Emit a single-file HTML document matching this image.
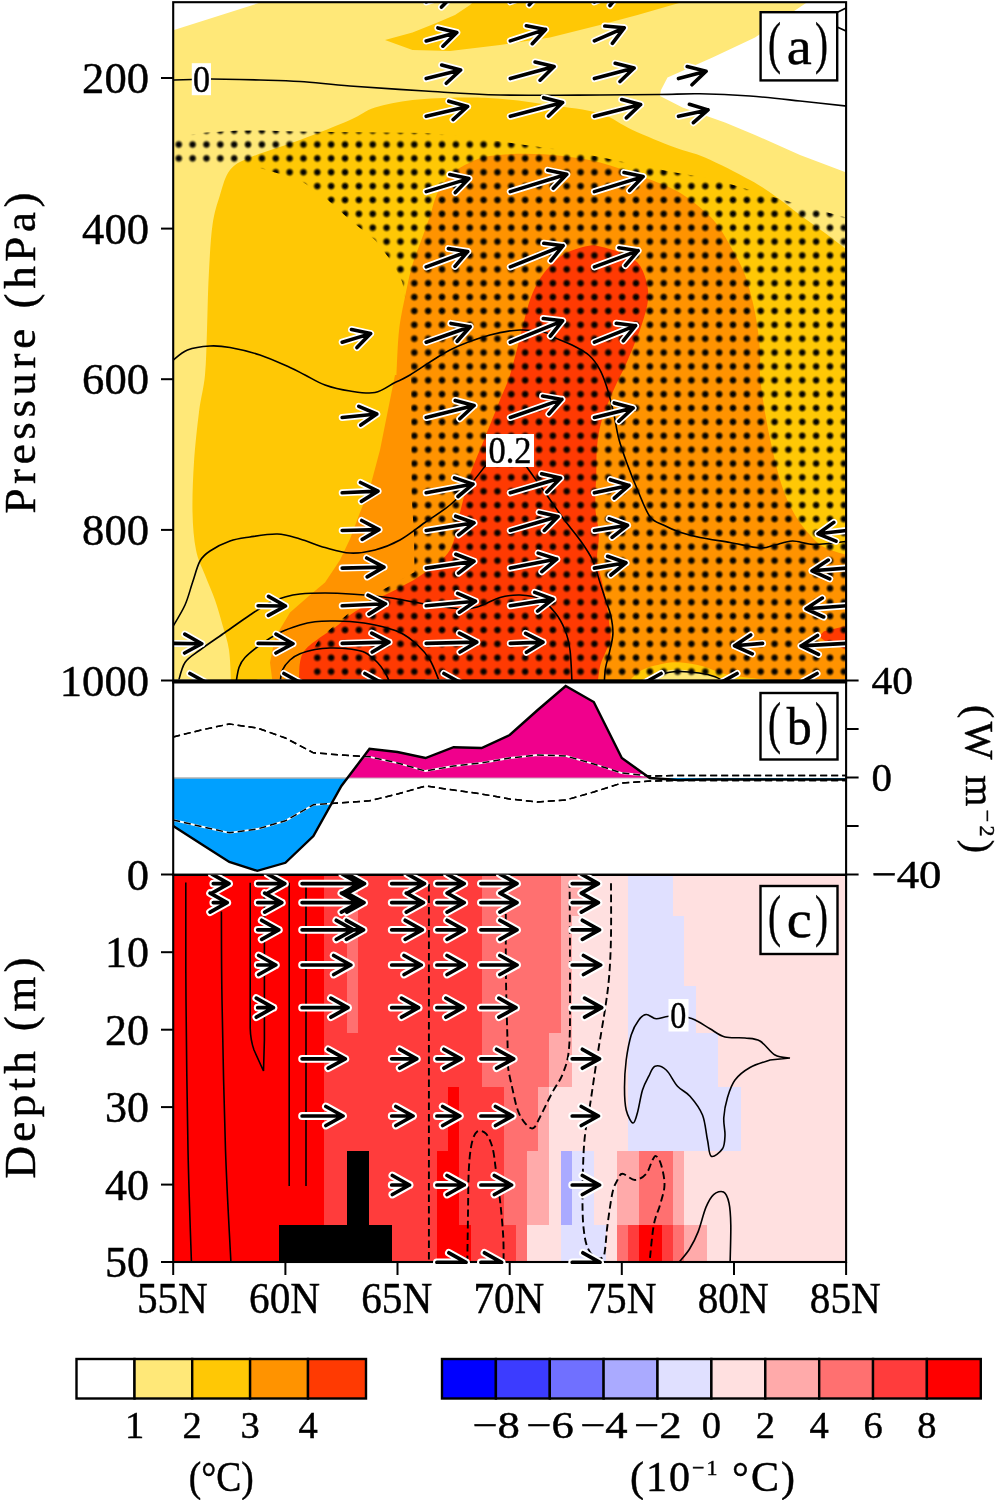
<!DOCTYPE html>
<html><head><meta charset="utf-8"><title>figure</title>
<style>
html,body{margin:0;padding:0;background:#fff;}
body{width:1000px;height:1500px;overflow:hidden;font-family:"Liberation Serif",serif;}
svg{display:block;will-change:transform;}
text{font-family:"Liberation Serif",serif;fill:#000;stroke:#000;stroke-width:0.45px;}
</style></head><body>
<svg width="1000" height="1500" viewBox="0 0 1000 1500">
<rect x="0" y="0" width="1000" height="1500" fill="#ffffff"/>
<defs>
<clipPath id="clipA"><rect x="173.2" y="2.2" width="672.9000000000001" height="678.3"/></clipPath>
<radialGradient id="dotg"><stop offset="0" stop-color="#000" stop-opacity="1"/><stop offset="0.34" stop-color="#000" stop-opacity="0.96"/><stop offset="0.6" stop-color="#000" stop-opacity="0.58"/><stop offset="0.82" stop-color="#000" stop-opacity="0.15"/><stop offset="1" stop-color="#000" stop-opacity="0"/></radialGradient>
<pattern id="dots" patternUnits="userSpaceOnUse" x="171.822" y="137.565" width="13.856" height="13.871"><circle cx="6.928" cy="6.936" r="4.9" fill="url(#dotg)"/></pattern>
</defs>
<g clip-path="url(#clipA)">
<rect x="173.2" y="2.2" width="672.9000000000001" height="678.3" fill="#ffe878"/>
<polygon points="174.0,2.0 262.0,2.0 174.0,30.0" fill="#ffffff"/>
<polygon points="807.5,2.0 850.0,2.0 850.0,174.0 800.0,155.0 755.0,135.0 725.0,122.5 682.5,107.5 660.0,96.0 661.0,90.0 667.5,77.5 712.5,57.5 755.0,37.5" fill="#ffffff"/>
<path d="M850.0 252.0 C845.8 248.8 833.3 239.2 825.0 233.0 C816.7 226.8 808.3 221.2 800.0 215.0 C791.7 208.8 783.3 201.8 775.0 196.0 C766.7 190.2 761.7 186.4 750.0 180.0 C738.3 173.6 717.5 162.9 705.0 157.5 C692.5 152.1 687.1 152.1 675.0 147.5 C662.9 142.9 645.0 135.7 632.5 130.0 C620.0 124.3 613.8 117.7 600.0 113.5 C586.2 109.3 566.7 107.5 550.0 105.0 C533.3 102.5 514.6 100.0 500.0 98.8 C485.4 97.5 477.1 97.3 462.5 97.5 C447.9 97.7 427.1 98.3 412.5 100.0 C397.9 101.7 385.4 104.2 375.0 107.5 C364.6 110.8 362.5 114.6 350.0 120.0 C337.5 125.4 316.7 133.8 300.0 140.0 C283.3 146.2 261.7 152.5 250.0 157.5 C238.3 162.5 235.0 163.8 230.0 170.0 C225.0 176.2 222.9 185.8 220.0 195.0 C217.1 204.2 214.4 211.7 212.5 225.0 C210.6 238.3 209.7 257.5 208.8 275.0 C207.8 292.5 207.6 313.3 207.0 330.0 C206.4 346.7 206.3 361.3 205.0 375.0 C203.7 388.7 200.8 397.5 199.0 412.0 C197.2 426.5 195.1 445.3 194.0 462.0 C192.9 478.7 192.2 497.3 192.5 512.0 C192.8 526.7 193.9 539.5 196.0 550.0 C198.1 560.5 201.8 566.7 205.0 575.0 C208.2 583.3 212.1 591.7 215.0 600.0 C217.9 608.3 220.2 616.7 222.5 625.0 C224.8 633.3 227.6 640.5 229.0 650.0 C230.4 659.5 230.7 676.7 231.0 682.0 L850 682 Z" fill="#ffc805"/>
<polygon points="385.0,40.0 412.5,32.5 437.5,22.5 455.0,15.0 470.0,5.0 475.0,0.0 690.0,0.0 682.5,2.0 637.5,15.0 600.0,25.0 550.0,37.5 500.0,45.0 450.0,51.0 412.5,50.0" fill="#ffc805"/>
<path d="M396.5 375.0 C396.9 367.7 397.6 344.0 399.0 331.0 C400.4 318.0 402.8 307.8 405.0 297.0 C407.2 286.2 409.3 275.3 412.0 266.0 C414.7 256.7 418.0 249.3 421.0 241.0 C424.0 232.7 427.3 223.8 430.0 216.0 C432.7 208.2 433.7 200.8 437.0 194.0 C440.3 187.2 444.5 180.2 450.0 175.0 C455.5 169.8 463.3 165.7 470.0 162.5 C476.7 159.3 480.8 157.5 490.0 156.0 C499.2 154.5 512.9 153.8 525.0 153.8 C537.1 153.8 550.0 154.5 562.5 156.0 C575.0 157.5 587.5 159.3 600.0 162.5 C612.5 165.7 625.0 170.4 637.5 175.0 C650.0 179.6 664.6 184.6 675.0 190.0 C685.4 195.4 692.9 201.7 700.0 207.5 C707.1 213.3 712.1 217.9 717.5 225.0 C722.9 232.1 727.9 241.7 732.5 250.0 C737.1 258.3 741.2 264.6 745.0 275.0 C748.8 285.4 752.5 300.0 755.0 312.5 C757.5 325.0 759.2 339.6 760.0 350.0 C760.8 360.4 759.2 364.6 760.0 375.0 C760.8 385.4 762.9 400.0 765.0 412.5 C767.1 425.0 769.6 437.5 772.5 450.0 C775.4 462.5 778.8 476.7 782.5 487.5 C786.2 498.3 790.4 507.1 795.0 515.0 C799.6 522.9 805.0 529.6 810.0 535.0 C815.0 540.4 818.3 544.0 825.0 547.5 C831.7 551.0 845.8 554.6 850.0 556.0 L850 682 L272.5 682  L272.5 682.0 L270.0 662.5 L275.0 637.5 L290.0 612.5 L310.0 595.0 L325.0 582.5 L340.0 560.0 L350.0 539.0 L360.0 512.5 L370.0 487.5 L380.0 450.0 L387.5 412.5 L395.0 375.0 Z" fill="#ff9300"/>
<path d="M299.0 682.0 C299.2 678.8 299.0 667.8 300.0 662.5 C301.0 657.2 301.7 654.2 305.0 650.0 C308.3 645.8 315.0 641.2 320.0 637.5 C325.0 633.8 330.0 631.2 335.0 627.5 C340.0 623.8 343.3 619.6 350.0 615.0 C356.7 610.4 366.7 604.6 375.0 600.0 C383.3 595.4 391.7 592.1 400.0 587.5 C408.3 582.9 416.7 578.8 425.0 572.5 C433.3 566.2 444.2 560.0 450.0 550.0 C455.8 540.0 456.7 525.0 460.0 512.5 C463.3 500.0 465.8 487.5 470.0 475.0 C474.2 462.5 480.0 450.0 485.0 437.5 C490.0 425.0 495.8 410.4 500.0 400.0 C504.2 389.6 506.7 385.4 510.0 375.0 C513.3 364.6 516.7 350.0 520.0 337.5 C523.3 325.0 526.2 310.4 530.0 300.0 C533.8 289.6 537.1 282.5 542.5 275.0 C547.9 267.5 555.0 259.8 562.5 255.0 C570.0 250.2 581.2 247.4 587.5 246.0 C593.8 244.6 594.6 245.4 600.0 246.5 C605.4 247.6 613.8 249.8 620.0 252.5 C626.2 255.2 633.2 257.9 637.5 262.5 C641.8 267.1 644.2 273.8 646.0 280.0 C647.8 286.2 648.8 292.3 648.0 300.0 C647.2 307.7 644.7 315.9 641.3 326.0 C637.9 336.1 632.1 350.0 627.5 360.7 C622.9 371.4 617.9 379.9 613.6 390.0 C609.3 400.1 604.3 411.8 601.5 421.3 C598.7 430.9 597.9 438.6 597.0 447.3 C596.1 456.0 596.6 463.2 596.3 473.3 C596.0 483.4 595.0 497.9 595.4 508.0 C595.8 518.1 598.6 525.3 598.9 534.0 C599.2 542.7 596.6 552.7 597.0 560.0 C597.4 567.3 599.5 571.3 601.0 578.0 C602.5 584.7 604.6 592.0 606.0 600.0 C607.4 608.0 608.8 619.5 609.5 626.0 C610.2 632.5 611.1 634.7 610.5 639.0 C609.9 643.3 607.3 647.7 605.6 652.0 C603.9 656.3 601.7 660.0 600.4 665.0 C599.1 670.0 598.2 679.2 597.8 682.0 Z" fill="#ff3a02"/>
<polygon points="850.0,625.0 824.0,631.2 818.8,636.4 824.0,640.3 850.0,651.5" fill="#ff3a02"/>
<path d="M629.0 681.0 C631.2 679.2 636.3 672.9 642.0 670.0 C647.7 667.1 656.5 665.0 663.0 663.7 C669.5 662.4 674.5 662.0 681.0 662.4 C687.5 662.8 694.7 664.1 702.0 666.0 C709.3 667.9 716.8 672.0 725.0 674.0 C733.2 676.0 741.0 676.8 751.0 678.0 C761.0 679.2 779.3 680.5 785.0 681.0 Z" fill="#ffc805"/>
<path d="M642.0 681.0 C644.2 679.8 649.8 675.9 655.0 674.0 C660.2 672.1 666.5 670.1 673.0 669.7 C679.5 669.3 687.0 670.3 694.0 671.5 C701.0 672.7 709.0 675.1 715.0 676.7 C721.0 678.3 727.5 680.3 730.0 681.0 Z" fill="#ffe878"/>
<polygon points="174.0,139.0 190.0,135.0 204.0,132.7 235.0,130.7 262.0,130.5 295.0,131.6 350.0,132.3 425.0,133.0 475.0,137.5 525.0,145.0 562.5,150.0 600.0,157.0 637.5,165.0 675.0,172.5 712.5,178.8 750.0,190.0 800.0,205.0 850.0,218.5 850.0,690.0 311.0,690.0 311.0,665.0 312.0,651.0 320.0,638.0 335.0,625.0 350.0,612.0 382.5,590.0 414.5,572.0 414.0,535.0 411.5,495.0 411.0,375.0 410.0,350.0 407.5,312.5 402.5,282.5 392.5,262.5 375.0,240.0 350.0,220.0 325.0,197.5 300.0,180.0 275.0,172.5 250.0,165.0 174.0,165.0" fill="url(#dots)"/>
<path d="M174.0 80.0 L192.0 79.5" fill="none" stroke="#000" stroke-width="1.6"/>
<path d="M211.0 79.0 C219.2 79.2 245.2 79.6 260.0 80.0 C274.8 80.4 285.0 80.5 300.0 81.5 C315.0 82.5 329.2 84.4 350.0 86.0 C370.8 87.6 400.0 89.5 425.0 91.0 C450.0 92.5 470.8 94.3 500.0 95.0 C529.2 95.7 573.3 95.1 600.0 95.0 C626.7 94.9 643.3 94.7 660.0 94.5 C676.7 94.3 685.0 93.5 700.0 93.8 C715.0 94.0 733.3 94.8 750.0 96.0 C766.7 97.2 783.3 99.2 800.0 101.0 C816.7 102.8 841.7 105.6 850.0 106.5" fill="none" stroke="#000" stroke-width="1.6"/>
<path d="M836.0 13.0 L847.0 7.5" fill="none" stroke="#000" stroke-width="1.6"/>
<path d="M836.0 26.5 L847.0 31.5" fill="none" stroke="#000" stroke-width="1.6"/>
<path d="M172.0 361.0 C174.6 359.2 181.2 352.5 187.5 350.0 C193.8 347.5 202.9 346.4 210.0 346.0 C217.1 345.6 221.7 346.0 230.0 347.5 C238.3 349.0 250.0 351.7 260.0 355.0 C270.0 358.3 282.5 364.2 290.0 367.5 C297.5 370.8 299.2 372.1 305.0 375.0 C310.8 377.9 317.5 382.3 325.0 385.0 C332.5 387.7 341.7 389.8 350.0 391.0 C358.3 392.2 367.5 393.9 375.0 392.5 C382.5 391.1 389.2 385.4 395.0 382.5 C400.8 379.6 400.8 380.4 410.0 375.0 C419.2 369.6 436.7 356.7 450.0 350.0 C463.3 343.3 478.3 338.3 490.0 335.0 C501.7 331.7 510.8 330.4 520.0 330.0 C529.2 329.6 539.8 331.4 545.0 332.5 C550.2 333.6 546.7 334.3 551.2 336.4 C555.7 338.5 565.6 341.8 572.0 345.0 C578.4 348.2 584.7 351.4 589.3 355.5 C593.9 359.6 596.8 364.1 599.7 369.3 C602.6 374.5 604.4 379.5 606.7 386.7 C609.0 393.9 611.6 404.0 613.6 412.7 C615.6 421.4 616.5 430.0 618.8 438.7 C621.1 447.4 624.3 456.0 627.5 464.7 C630.7 473.4 634.1 482.0 637.9 490.7 C641.6 499.4 645.7 510.9 650.0 516.7 C654.3 522.5 658.9 522.7 663.9 525.3 C668.9 527.9 674.0 530.3 680.0 532.3 C686.0 534.3 691.7 535.8 700.0 537.5 C708.3 539.2 720.0 540.8 730.0 542.5 C740.0 544.2 752.5 547.6 760.0 548.0 C767.5 548.4 769.6 546.2 775.0 545.0 C780.4 543.8 785.8 541.1 792.5 541.0 C799.2 540.9 805.4 544.5 815.0 544.5 C824.6 544.5 844.2 541.6 850.0 541.0" fill="none" stroke="#000" stroke-width="1.6"/>
<path d="M172.0 628.0 C174.2 624.2 181.6 612.6 185.0 605.0 C188.4 597.4 190.0 589.8 192.5 582.5 C195.0 575.2 197.1 566.2 200.0 561.0 C202.9 555.8 205.0 554.3 210.0 551.0 C215.0 547.7 223.3 543.3 230.0 541.0 C236.7 538.7 242.1 538.2 250.0 537.0 C257.9 535.8 269.2 533.7 277.5 534.0 C285.8 534.3 292.1 536.8 300.0 539.0 C307.9 541.2 316.7 545.2 325.0 547.5 C333.3 549.8 341.7 552.6 350.0 553.0 C358.3 553.4 366.7 552.2 375.0 550.0 C383.3 547.8 391.7 544.6 400.0 540.0 C408.3 535.4 416.7 528.3 425.0 522.5 C433.3 516.7 442.5 511.2 450.0 505.0 C457.5 498.8 464.0 491.7 470.0 485.0 C476.0 478.3 483.3 468.3 486.0 465.0" fill="none" stroke="#000" stroke-width="1.6"/>
<path d="M526.0 466.0 C529.2 470.4 538.9 483.9 545.0 492.5 C551.1 501.1 556.7 509.6 562.5 517.5 C568.3 525.4 575.0 532.9 580.0 540.0 C585.0 547.1 589.2 552.9 592.5 560.0 C595.8 567.1 597.8 575.8 600.0 582.5 C602.2 589.2 603.8 594.5 605.6 600.0 C607.4 605.5 609.6 610.0 610.8 615.6 C612.0 621.2 613.1 627.7 612.9 633.8 C612.7 639.9 610.7 646.4 609.5 652.0 C608.3 657.6 606.5 662.6 605.6 667.6 C604.7 672.6 604.5 679.6 604.3 682.0" fill="none" stroke="#000" stroke-width="1.6"/>
<path d="M178.0 683.0 C179.2 679.6 181.3 668.0 185.0 662.5 C188.7 657.0 193.3 655.0 200.0 650.0 C206.7 645.0 216.7 638.3 225.0 632.5 C233.3 626.7 242.5 620.0 250.0 615.0 C257.5 610.0 264.2 605.5 270.0 602.5 C275.8 599.5 280.0 598.4 285.0 597.0 C290.0 595.6 293.3 594.7 300.0 594.0 C306.7 593.3 316.7 593.0 325.0 593.0 C333.3 593.0 339.6 593.2 350.0 594.0 C360.4 594.8 375.0 595.8 387.5 597.5 C400.0 599.2 412.5 602.1 425.0 604.0 C437.5 605.9 453.3 608.7 462.5 609.0 C471.7 609.3 473.8 607.9 480.0 606.0 C486.2 604.1 493.3 599.3 500.0 597.5 C506.7 595.7 513.3 594.8 520.0 595.0 C526.7 595.2 534.2 596.1 540.0 599.0 C545.8 601.9 550.8 607.3 555.0 612.5 C559.2 617.7 562.5 623.8 565.0 630.0 C567.5 636.2 568.8 641.2 570.0 650.0 C571.2 658.8 571.7 677.5 572.0 683.0" fill="none" stroke="#000" stroke-width="1.6"/>
<path d="M236.0 683.0 C236.5 680.4 237.5 671.8 239.0 667.5 C240.5 663.2 241.5 661.2 245.0 657.5 C248.5 653.8 254.2 649.2 260.0 645.0 C265.8 640.8 273.3 635.8 280.0 632.5 C286.7 629.2 294.2 626.8 300.0 625.0 C305.8 623.2 310.0 622.4 315.0 621.8 C320.0 621.1 324.2 621.0 330.0 621.0 C335.8 621.0 342.5 620.8 350.0 621.5 C357.5 622.2 366.7 623.2 375.0 625.0 C383.3 626.8 392.9 629.2 400.0 632.5 C407.1 635.8 412.5 640.4 417.5 645.0 C422.5 649.6 426.2 653.7 430.0 660.0 C433.8 666.3 438.3 679.2 440.0 683.0" fill="none" stroke="#000" stroke-width="1.6"/>
<path d="M280.0 683.0 C280.4 680.8 280.8 673.8 282.5 670.0 C284.2 666.2 287.1 662.7 290.0 660.0 C292.9 657.3 295.8 655.5 300.0 653.8 C304.2 652.0 310.0 650.5 315.0 649.5 C320.0 648.5 324.2 648.1 330.0 648.0 C335.8 647.9 344.2 648.2 350.0 649.0 C355.8 649.8 360.4 650.2 365.0 652.5 C369.6 654.8 374.2 659.2 377.5 662.5 C380.8 665.8 382.9 669.1 385.0 672.5 C387.1 675.9 389.2 681.2 390.0 683.0" fill="none" stroke="#000" stroke-width="1.6"/>
<path d="M648.5 682.0 C650.9 680.7 658.1 675.8 663.0 674.0 C667.9 672.2 672.0 671.7 678.0 671.5 C684.0 671.3 692.8 672.1 699.0 673.0 C705.2 673.9 710.7 675.2 715.0 676.7 C719.3 678.2 723.3 681.1 725.0 682.0" fill="none" stroke="#000" stroke-width="1.6"/>
<path d="M174.0 643.4L201.8 643.7M184.6 653.0L201.8 643.7L184.8 634.1M174.0 683.0L207.0 683.0M189.9 692.5L207.0 683.0L189.9 673.5M258.1 605.8L285.5 606.0M268.4 615.3L285.5 606.0L268.5 596.4M258.1 643.4L293.0 643.7M275.9 653.0L293.0 643.7L276.0 634.1M258.1 683.0L301.0 683.0M283.9 692.5L301.0 683.0L283.9 673.5M342.2 342.2L370.6 333.6M357.0 347.6L370.6 333.6L351.5 329.5M342.2 417.5L376.8 414.0M360.8 425.1L376.8 414.0L358.8 406.3M342.2 492.8L378.0 491.1M361.4 501.4L378.0 491.1L360.5 482.5M342.2 530.5L379.0 529.6M362.2 539.4L379.0 529.6L361.7 520.5M342.2 568.1L384.0 567.1M367.2 576.9L384.0 567.1L366.7 558.0M342.2 605.8L385.5 603.8M368.9 614.1L385.5 603.8L368.0 595.2M342.2 643.4L389.0 642.1M372.2 652.0L389.0 642.1L371.7 633.1M342.2 683.0L382.0 683.0M364.9 692.5L382.0 683.0L364.9 673.5M426.2 1.8L455.1 -6.9M441.5 7.1L455.1 -6.9L436.0 -11.0M426.2 40.9L456.8 32.5M442.9 46.2L456.8 32.5L437.9 27.9M426.2 78.6L460.6 70.0M446.3 83.3L460.6 70.0L441.7 65.0M426.2 116.3L467.6 106.5M453.1 119.6L467.6 106.5L448.8 101.2M426.2 191.6L468.9 178.6M455.3 192.6L468.9 178.6L449.8 174.5M426.2 266.9L467.7 251.5M455.0 266.3L467.7 251.5L448.4 248.6M426.2 342.2L470.1 326.7M457.2 341.3L470.1 326.7L450.9 323.4M426.2 417.5L474.1 405.5M459.8 418.8L474.1 405.5L455.2 400.5M426.2 492.8L473.0 484.1M458.0 496.5L473.0 484.1L454.5 477.9M426.2 530.5L474.0 522.8M458.7 534.8L474.0 522.8L455.7 516.2M426.2 568.1L474.0 561.3M458.5 573.1L474.0 561.3L455.8 554.3M426.2 605.8L475.5 601.2M459.4 612.2L475.5 601.2L457.6 593.4M426.2 643.4L476.8 642.1M460.0 652.0L476.8 642.1L459.4 633.1M426.2 683.0L461.0 683.0M443.9 692.5L461.0 683.0L443.9 673.5M510.3 1.8L542.1 -9.8M529.3 4.9L542.1 -9.8L522.9 -12.8M510.3 40.9L545.6 29.4M532.3 43.7L545.6 29.4L526.4 25.7M510.3 78.6L554.1 66.5M540.1 80.2L554.1 66.5L535.1 62.0M510.3 116.3L562.6 102.5M548.5 116.0L562.6 102.5L543.7 97.7M510.3 191.6L566.8 174.3M553.3 188.3L566.8 174.3L547.8 170.3M510.3 266.9L563.1 245.7M550.8 260.9L563.1 245.7L543.8 243.3M510.3 342.2L562.6 320.8M550.4 336.0L562.6 320.8L543.3 318.5M510.3 417.5L561.9 399.4M548.9 414.0L561.9 399.4L542.6 396.1M510.3 492.8L560.6 478.1M546.9 491.9L560.6 478.1L541.6 473.8M510.3 530.5L558.1 516.6M544.3 530.4L558.1 516.6L539.1 512.3M510.3 568.1L556.8 559.1M541.8 571.7L556.8 559.1L538.2 553.1M510.3 605.8L553.0 599.1M537.6 611.1L553.0 599.1L534.7 592.4M510.3 643.4L543.0 642.1M526.4 652.2L543.0 642.1L525.6 633.3M594.4 1.8L622.2 -9.7M610.0 5.5L622.2 -9.7L602.8 -11.9M594.4 40.9L624.2 27.8M612.4 43.3L624.2 27.8L604.8 26.0M594.4 78.6L634.1 68.0M620.0 81.5L634.1 68.0L615.2 63.3M594.4 116.3L640.6 104.5M626.4 117.9L640.6 104.5L621.7 99.5M594.4 191.6L643.1 176.6M629.6 190.6L643.1 176.6L624.0 172.6M594.4 266.9L638.1 250.7M625.4 265.5L638.1 250.7L618.8 247.7M594.4 342.2L635.6 325.7M623.3 340.8L635.6 325.7L616.3 323.3M594.4 417.5L633.1 408.0M618.8 421.2L633.1 408.0L614.2 402.9M594.4 492.8L629.0 485.4M614.3 498.2L629.0 485.4L610.4 479.7M594.4 530.5L627.5 525.3M612.1 537.3L627.5 525.3L609.2 518.6M594.4 568.1L626.0 562.8M610.8 575.0L626.0 562.8L607.6 556.3M678.5 78.6L706.1 71.3M692.0 84.8L706.1 71.3L687.2 66.5M678.5 116.3L708.0 109.9M693.4 122.7L708.0 109.9L689.4 104.3M678.5 683.0L644.0 683.0M661.1 673.5L644.0 683.0L661.1 692.5M762.6 643.4L734.5 645.8M750.7 635.0L734.5 645.8L752.3 653.8M762.6 683.0L720.0 683.0M737.1 673.5L720.0 683.0L737.1 692.5M846.5 530.5L818.0 533.8M833.8 522.4L818.0 533.8L836.0 541.2M846.5 568.1L812.0 570.8M828.3 560.1L812.0 570.8L829.7 578.9M846.5 605.8L806.0 608.8M822.3 598.1L806.0 608.8L823.7 617.0M846.5 643.4L801.0 645.9M817.5 635.5L801.0 645.9L818.5 654.4M846.5 683.0L800.0 683.0M817.1 673.5L800.0 683.0L817.1 692.5" fill="none" stroke="#fff" stroke-width="7.0" stroke-linecap="round" stroke-linejoin="round"/>
<path d="M174.0 643.4L201.8 643.7M184.6 653.0L201.8 643.7L184.8 634.1M174.0 683.0L207.0 683.0M189.9 692.5L207.0 683.0L189.9 673.5M258.1 605.8L285.5 606.0M268.4 615.3L285.5 606.0L268.5 596.4M258.1 643.4L293.0 643.7M275.9 653.0L293.0 643.7L276.0 634.1M258.1 683.0L301.0 683.0M283.9 692.5L301.0 683.0L283.9 673.5M342.2 342.2L370.6 333.6M357.0 347.6L370.6 333.6L351.5 329.5M342.2 417.5L376.8 414.0M360.8 425.1L376.8 414.0L358.8 406.3M342.2 492.8L378.0 491.1M361.4 501.4L378.0 491.1L360.5 482.5M342.2 530.5L379.0 529.6M362.2 539.4L379.0 529.6L361.7 520.5M342.2 568.1L384.0 567.1M367.2 576.9L384.0 567.1L366.7 558.0M342.2 605.8L385.5 603.8M368.9 614.1L385.5 603.8L368.0 595.2M342.2 643.4L389.0 642.1M372.2 652.0L389.0 642.1L371.7 633.1M342.2 683.0L382.0 683.0M364.9 692.5L382.0 683.0L364.9 673.5M426.2 1.8L455.1 -6.9M441.5 7.1L455.1 -6.9L436.0 -11.0M426.2 40.9L456.8 32.5M442.9 46.2L456.8 32.5L437.9 27.9M426.2 78.6L460.6 70.0M446.3 83.3L460.6 70.0L441.7 65.0M426.2 116.3L467.6 106.5M453.1 119.6L467.6 106.5L448.8 101.2M426.2 191.6L468.9 178.6M455.3 192.6L468.9 178.6L449.8 174.5M426.2 266.9L467.7 251.5M455.0 266.3L467.7 251.5L448.4 248.6M426.2 342.2L470.1 326.7M457.2 341.3L470.1 326.7L450.9 323.4M426.2 417.5L474.1 405.5M459.8 418.8L474.1 405.5L455.2 400.5M426.2 492.8L473.0 484.1M458.0 496.5L473.0 484.1L454.5 477.9M426.2 530.5L474.0 522.8M458.7 534.8L474.0 522.8L455.7 516.2M426.2 568.1L474.0 561.3M458.5 573.1L474.0 561.3L455.8 554.3M426.2 605.8L475.5 601.2M459.4 612.2L475.5 601.2L457.6 593.4M426.2 643.4L476.8 642.1M460.0 652.0L476.8 642.1L459.4 633.1M426.2 683.0L461.0 683.0M443.9 692.5L461.0 683.0L443.9 673.5M510.3 1.8L542.1 -9.8M529.3 4.9L542.1 -9.8L522.9 -12.8M510.3 40.9L545.6 29.4M532.3 43.7L545.6 29.4L526.4 25.7M510.3 78.6L554.1 66.5M540.1 80.2L554.1 66.5L535.1 62.0M510.3 116.3L562.6 102.5M548.5 116.0L562.6 102.5L543.7 97.7M510.3 191.6L566.8 174.3M553.3 188.3L566.8 174.3L547.8 170.3M510.3 266.9L563.1 245.7M550.8 260.9L563.1 245.7L543.8 243.3M510.3 342.2L562.6 320.8M550.4 336.0L562.6 320.8L543.3 318.5M510.3 417.5L561.9 399.4M548.9 414.0L561.9 399.4L542.6 396.1M510.3 492.8L560.6 478.1M546.9 491.9L560.6 478.1L541.6 473.8M510.3 530.5L558.1 516.6M544.3 530.4L558.1 516.6L539.1 512.3M510.3 568.1L556.8 559.1M541.8 571.7L556.8 559.1L538.2 553.1M510.3 605.8L553.0 599.1M537.6 611.1L553.0 599.1L534.7 592.4M510.3 643.4L543.0 642.1M526.4 652.2L543.0 642.1L525.6 633.3M594.4 1.8L622.2 -9.7M610.0 5.5L622.2 -9.7L602.8 -11.9M594.4 40.9L624.2 27.8M612.4 43.3L624.2 27.8L604.8 26.0M594.4 78.6L634.1 68.0M620.0 81.5L634.1 68.0L615.2 63.3M594.4 116.3L640.6 104.5M626.4 117.9L640.6 104.5L621.7 99.5M594.4 191.6L643.1 176.6M629.6 190.6L643.1 176.6L624.0 172.6M594.4 266.9L638.1 250.7M625.4 265.5L638.1 250.7L618.8 247.7M594.4 342.2L635.6 325.7M623.3 340.8L635.6 325.7L616.3 323.3M594.4 417.5L633.1 408.0M618.8 421.2L633.1 408.0L614.2 402.9M594.4 492.8L629.0 485.4M614.3 498.2L629.0 485.4L610.4 479.7M594.4 530.5L627.5 525.3M612.1 537.3L627.5 525.3L609.2 518.6M594.4 568.1L626.0 562.8M610.8 575.0L626.0 562.8L607.6 556.3M678.5 78.6L706.1 71.3M692.0 84.8L706.1 71.3L687.2 66.5M678.5 116.3L708.0 109.9M693.4 122.7L708.0 109.9L689.4 104.3M678.5 683.0L644.0 683.0M661.1 673.5L644.0 683.0L661.1 692.5M762.6 643.4L734.5 645.8M750.7 635.0L734.5 645.8L752.3 653.8M762.6 683.0L720.0 683.0M737.1 673.5L720.0 683.0L737.1 692.5M846.5 530.5L818.0 533.8M833.8 522.4L818.0 533.8L836.0 541.2M846.5 568.1L812.0 570.8M828.3 560.1L812.0 570.8L829.7 578.9M846.5 605.8L806.0 608.8M822.3 598.1L806.0 608.8L823.7 617.0M846.5 643.4L801.0 645.9M817.5 635.5L801.0 645.9L818.5 654.4M846.5 683.0L800.0 683.0M817.1 673.5L800.0 683.0L817.1 692.5" fill="none" stroke="#000" stroke-width="3.6" stroke-linecap="round" stroke-linejoin="round"/>
</g>
<rect x="191.8" y="63.2" width="19.2" height="32" fill="#fff"/>
<text x="201.5" y="92" font-size="37" textLength="17" lengthAdjust="spacingAndGlyphs" text-anchor="middle" font-family="Liberation Serif, serif">0</text>
<rect x="486" y="434" width="48" height="33" fill="#fff"/>
<text x="510" y="463" font-size="37" text-anchor="middle" textLength="43" lengthAdjust="spacingAndGlyphs" font-family="Liberation Serif, serif">0.2</text>
<rect x="760.6" y="12.2" width="76.6" height="68.2" fill="#fff" stroke="#000" stroke-width="2.4"/>
<defs>
<clipPath id="clipBlo"><rect x="173.2" y="778.0" width="672.9000000000001" height="96.5"/></clipPath>
<clipPath id="clipBhi"><rect x="173.2" y="680.5" width="672.9000000000001" height="97.5"/></clipPath>
<clipPath id="clipBfill"><polygon points="173.2,826.0 201.2,844.0 229.3,862.0 257.3,870.8 285.4,862.8 313.4,836.0 341.4,786.0 369.5,748.8 397.5,752.0 425.5,758.0 453.6,747.2 481.6,748.0 509.7,735.0 537.7,710.0 565.7,686.0 593.8,702.0 621.8,758.0 649.8,778.0 677.9,780.0 705.9,779.5 734.0,779.5 762.0,779.5 790.0,779.5 818.1,779.5 846.1,779.5 846.1,778.0 173.2,778.0"/></clipPath>
</defs>
<rect x="173.2" y="680.5" width="672.9000000000001" height="194.0" fill="#fff"/>
<polyline points="173.2,737.0 201.2,730.0 229.3,724.0 257.3,728.0 285.4,738.0 313.4,752.8 341.4,755.0 369.5,756.8 397.5,763.0 425.5,771.0 453.6,766.0 481.6,763.0 509.7,758.0 537.7,755.0 565.7,756.0 593.8,764.0 621.8,773.0 649.8,776.0 677.9,775.5 705.9,775.5 734.0,775.5 762.0,775.5 790.0,775.5 818.1,775.5 846.1,775.5" fill="none" stroke="#000" stroke-width="1.5" stroke-dasharray="7 4"/>
<polyline points="173.2,820.0 201.2,826.5 229.3,832.8 257.3,829.0 285.4,820.8 313.4,804.8 341.4,802.8 369.5,800.8 397.5,794.0 425.5,786.0 453.6,790.0 481.6,794.0 509.7,799.0 537.7,802.0 565.7,800.0 593.8,792.0 621.8,783.0 649.8,781.0 677.9,780.5 705.9,780.5 734.0,780.5 762.0,780.5 790.0,780.5 818.1,780.5 846.1,780.5" fill="none" stroke="#000" stroke-width="1.5" stroke-dasharray="7 4"/>
<polygon points="173.2,826.0 201.2,844.0 229.3,862.0 257.3,870.8 285.4,862.8 313.4,836.0 341.4,786.0 369.5,748.8 397.5,752.0 425.5,758.0 453.6,747.2 481.6,748.0 509.7,735.0 537.7,710.0 565.7,686.0 593.8,702.0 621.8,758.0 649.8,778.0 677.9,780.0 705.9,779.5 734.0,779.5 762.0,779.5 790.0,779.5 818.1,779.5 846.1,779.5 846.1,778.0 173.2,778.0" fill="#00a0ff" clip-path="url(#clipBlo)"/>
<polygon points="173.2,826.0 201.2,844.0 229.3,862.0 257.3,870.8 285.4,862.8 313.4,836.0 341.4,786.0 369.5,748.8 397.5,752.0 425.5,758.0 453.6,747.2 481.6,748.0 509.7,735.0 537.7,710.0 565.7,686.0 593.8,702.0 621.8,758.0 649.8,778.0 677.9,780.0 705.9,779.5 734.0,779.5 762.0,779.5 790.0,779.5 818.1,779.5 846.1,779.5 846.1,778.0 173.2,778.0" fill="#f0008c" clip-path="url(#clipBhi)"/>
<line x1="173.2" y1="778.0" x2="346" y2="778.0" stroke="#b0b0b0" stroke-width="1.6"/>
<line x1="346" y1="778.0" x2="650" y2="778.0" stroke="#c8a0b8" stroke-width="1"/>
<g clip-path="url(#clipBfill)">
<polyline points="173.2,737.0 201.2,730.0 229.3,724.0 257.3,728.0 285.4,738.0 313.4,752.8 341.4,755.0 369.5,756.8 397.5,763.0 425.5,771.0 453.6,766.0 481.6,763.0 509.7,758.0 537.7,755.0 565.7,756.0 593.8,764.0 621.8,773.0 649.8,776.0 677.9,775.5 705.9,775.5 734.0,775.5 762.0,775.5 790.0,775.5 818.1,775.5 846.1,775.5" fill="none" stroke="#fff" stroke-width="1.8"/>
<polyline points="173.2,820.0 201.2,826.5 229.3,832.8 257.3,829.0 285.4,820.8 313.4,804.8 341.4,802.8 369.5,800.8 397.5,794.0 425.5,786.0 453.6,790.0 481.6,794.0 509.7,799.0 537.7,802.0 565.7,800.0 593.8,792.0 621.8,783.0 649.8,781.0 677.9,780.5 705.9,780.5 734.0,780.5 762.0,780.5 790.0,780.5 818.1,780.5 846.1,780.5" fill="none" stroke="#fff" stroke-width="1.8"/>
</g>
<polyline points="173.2,737.0 201.2,730.0 229.3,724.0 257.3,728.0 285.4,738.0 313.4,752.8 341.4,755.0 369.5,756.8 397.5,763.0 425.5,771.0 453.6,766.0 481.6,763.0 509.7,758.0 537.7,755.0 565.7,756.0 593.8,764.0 621.8,773.0 649.8,776.0 677.9,775.5 705.9,775.5 734.0,775.5 762.0,775.5 790.0,775.5 818.1,775.5 846.1,775.5" fill="none" stroke="#000" stroke-width="1.5" stroke-dasharray="7 4"/>
<polyline points="173.2,820.0 201.2,826.5 229.3,832.8 257.3,829.0 285.4,820.8 313.4,804.8 341.4,802.8 369.5,800.8 397.5,794.0 425.5,786.0 453.6,790.0 481.6,794.0 509.7,799.0 537.7,802.0 565.7,800.0 593.8,792.0 621.8,783.0 649.8,781.0 677.9,780.5 705.9,780.5 734.0,780.5 762.0,780.5 790.0,780.5 818.1,780.5 846.1,780.5" fill="none" stroke="#000" stroke-width="1.5" stroke-dasharray="7 4"/>
<polyline points="173.2,826.0 201.2,844.0 229.3,862.0 257.3,870.8 285.4,862.8 313.4,836.0 341.4,786.0 369.5,748.8 397.5,752.0 425.5,758.0 453.6,747.2 481.6,748.0 509.7,735.0 537.7,710.0 565.7,686.0 593.8,702.0 621.8,758.0 649.8,778.0 677.9,780.0 705.9,779.5 734.0,779.5 762.0,779.5 790.0,779.5 818.1,779.5 846.1,779.5" fill="none" stroke="#000" stroke-width="2.4" stroke-linejoin="miter"/>
<line x1="173.2" y1="680.5" x2="173.2" y2="874.5" stroke="#000" stroke-width="2.1"/>
<line x1="846.1" y1="680.5" x2="846.1" y2="874.5" stroke="#000" stroke-width="2.1"/>
<rect x="173.2" y="2.2" width="672.9000000000001" height="678.3" fill="none" stroke="#000" stroke-width="2.1"/>
<line x1="172.2" y1="681.6" x2="847.1" y2="681.6" stroke="#000" stroke-width="3.6"/>
<line x1="846.1" y1="680.5" x2="858.6" y2="680.5" stroke="#000" stroke-width="2"/>
<line x1="846.1" y1="729.0" x2="858.6" y2="729.0" stroke="#000" stroke-width="2"/>
<line x1="846.1" y1="777.5" x2="858.6" y2="777.5" stroke="#000" stroke-width="2"/>
<line x1="846.1" y1="826.0" x2="858.6" y2="826.0" stroke="#000" stroke-width="2"/>
<line x1="846.1" y1="874.5" x2="858.6" y2="874.5" stroke="#000" stroke-width="2"/>
<rect x="760.5" y="693" width="77" height="66.5" fill="#fff" stroke="#000" stroke-width="2.4"/>
<defs>
<clipPath id="clipC"><rect x="173.2" y="874.8" width="672.9000000000001" height="387.20000000000005"/></clipPath>
<clipPath id="clipC2"><rect x="173.2" y="874.8" width="672.9000000000001" height="389.20000000000005"/></clipPath>
</defs>
<g clip-path="url(#clipC)" shape-rendering="crispEdges">
<rect x="173.2" y="874.8" width="672.9000000000001" height="387.20000000000005" fill="#ffe0e0"/>
<rect x="172.20" y="874.7" width="152.35" height="18.6" fill="#ff0000"/>
<rect x="324.25" y="874.7" width="22.80" height="18.6" fill="#ff3c3c"/>
<rect x="346.75" y="874.7" width="11.55" height="18.6" fill="#ff7070"/>
<rect x="358.00" y="874.7" width="124.05" height="18.6" fill="#ff3c3c"/>
<rect x="481.75" y="874.7" width="79.05" height="18.6" fill="#ff7070"/>
<rect x="560.50" y="874.7" width="22.80" height="18.6" fill="#ffaaaa"/>
<rect x="583.00" y="874.7" width="45.30" height="18.6" fill="#ffe0e0"/>
<rect x="628.00" y="874.7" width="45.30" height="18.6" fill="#e0e0ff"/>
<rect x="673.00" y="874.7" width="180.30" height="18.6" fill="#ffe0e0"/>
<rect x="172.20" y="892.7" width="152.35" height="23.6" fill="#ff0000"/>
<rect x="324.25" y="892.7" width="22.80" height="23.6" fill="#ff3c3c"/>
<rect x="346.75" y="892.7" width="11.55" height="23.6" fill="#ff7070"/>
<rect x="358.00" y="892.7" width="124.05" height="23.6" fill="#ff3c3c"/>
<rect x="481.75" y="892.7" width="79.05" height="23.6" fill="#ff7070"/>
<rect x="560.50" y="892.7" width="22.80" height="23.6" fill="#ffaaaa"/>
<rect x="583.00" y="892.7" width="45.30" height="23.6" fill="#ffe0e0"/>
<rect x="628.00" y="892.7" width="45.30" height="23.6" fill="#e0e0ff"/>
<rect x="673.00" y="892.7" width="180.30" height="23.6" fill="#ffe0e0"/>
<rect x="172.20" y="915.7" width="152.35" height="32.1" fill="#ff0000"/>
<rect x="324.25" y="915.7" width="22.80" height="32.1" fill="#ff3c3c"/>
<rect x="346.75" y="915.7" width="11.55" height="32.1" fill="#ff7070"/>
<rect x="358.00" y="915.7" width="124.05" height="32.1" fill="#ff3c3c"/>
<rect x="481.75" y="915.7" width="79.05" height="32.1" fill="#ff7070"/>
<rect x="560.50" y="915.7" width="11.55" height="32.1" fill="#ffaaaa"/>
<rect x="571.75" y="915.7" width="56.55" height="32.1" fill="#ffe0e0"/>
<rect x="628.00" y="915.7" width="56.55" height="32.1" fill="#e0e0ff"/>
<rect x="684.25" y="915.7" width="169.05" height="32.1" fill="#ffe0e0"/>
<rect x="172.20" y="947.2" width="152.35" height="39.1" fill="#ff0000"/>
<rect x="324.25" y="947.2" width="22.80" height="39.1" fill="#ff3c3c"/>
<rect x="346.75" y="947.2" width="11.55" height="39.1" fill="#ff7070"/>
<rect x="358.00" y="947.2" width="124.05" height="39.1" fill="#ff3c3c"/>
<rect x="481.75" y="947.2" width="79.05" height="39.1" fill="#ff7070"/>
<rect x="560.50" y="947.2" width="11.55" height="39.1" fill="#ffaaaa"/>
<rect x="571.75" y="947.2" width="56.55" height="39.1" fill="#ffe0e0"/>
<rect x="628.00" y="947.2" width="56.55" height="39.1" fill="#e0e0ff"/>
<rect x="684.25" y="947.2" width="169.05" height="39.1" fill="#ffe0e0"/>
<rect x="172.20" y="985.7" width="152.35" height="47.6" fill="#ff0000"/>
<rect x="324.25" y="985.7" width="22.80" height="47.6" fill="#ff3c3c"/>
<rect x="346.75" y="985.7" width="11.55" height="47.6" fill="#ff7070"/>
<rect x="358.00" y="985.7" width="124.05" height="47.6" fill="#ff3c3c"/>
<rect x="481.75" y="985.7" width="79.05" height="47.6" fill="#ff7070"/>
<rect x="560.50" y="985.7" width="11.55" height="47.6" fill="#ffaaaa"/>
<rect x="571.75" y="985.7" width="56.55" height="47.6" fill="#ffe0e0"/>
<rect x="628.00" y="985.7" width="67.80" height="47.6" fill="#e0e0ff"/>
<rect x="695.50" y="985.7" width="157.80" height="47.6" fill="#ffe0e0"/>
<rect x="172.20" y="1032.7" width="152.35" height="54.6" fill="#ff0000"/>
<rect x="324.25" y="1032.7" width="157.80" height="54.6" fill="#ff3c3c"/>
<rect x="481.75" y="1032.7" width="67.80" height="54.6" fill="#ff7070"/>
<rect x="549.25" y="1032.7" width="22.80" height="54.6" fill="#ffaaaa"/>
<rect x="571.75" y="1032.7" width="56.55" height="54.6" fill="#ffe0e0"/>
<rect x="628.00" y="1032.7" width="90.30" height="54.6" fill="#e0e0ff"/>
<rect x="718.00" y="1032.7" width="135.30" height="54.6" fill="#ffe0e0"/>
<rect x="172.20" y="1086.7" width="152.35" height="64.6" fill="#ff0000"/>
<rect x="324.25" y="1086.7" width="124.05" height="64.6" fill="#ff3c3c"/>
<rect x="448.00" y="1086.7" width="11.55" height="64.6" fill="#ff0000"/>
<rect x="459.25" y="1086.7" width="45.30" height="64.6" fill="#ff3c3c"/>
<rect x="504.25" y="1086.7" width="34.05" height="64.6" fill="#ff7070"/>
<rect x="538.00" y="1086.7" width="11.55" height="64.6" fill="#ffaaaa"/>
<rect x="549.25" y="1086.7" width="79.05" height="64.6" fill="#ffe0e0"/>
<rect x="628.00" y="1086.7" width="112.80" height="64.6" fill="#e0e0ff"/>
<rect x="740.50" y="1086.7" width="112.80" height="64.6" fill="#ffe0e0"/>
<rect x="172.20" y="1150.7" width="152.35" height="74.6" fill="#ff0000"/>
<rect x="324.25" y="1150.7" width="22.80" height="74.6" fill="#ff3c3c"/>
<rect x="346.75" y="1150.7" width="22.80" height="74.6" fill="#000000"/>
<rect x="369.25" y="1150.7" width="67.80" height="74.6" fill="#ff3c3c"/>
<rect x="436.75" y="1150.7" width="22.80" height="74.6" fill="#ff0000"/>
<rect x="459.25" y="1150.7" width="45.30" height="74.6" fill="#ff3c3c"/>
<rect x="504.25" y="1150.7" width="22.80" height="74.6" fill="#ff7070"/>
<rect x="526.75" y="1150.7" width="22.80" height="74.6" fill="#ffaaaa"/>
<rect x="549.25" y="1150.7" width="11.55" height="74.6" fill="#ffe0e0"/>
<rect x="560.50" y="1150.7" width="11.55" height="74.6" fill="#aaaaff"/>
<rect x="571.75" y="1150.7" width="22.80" height="74.6" fill="#e0e0ff"/>
<rect x="594.25" y="1150.7" width="22.80" height="74.6" fill="#ffe0e0"/>
<rect x="616.75" y="1150.7" width="22.80" height="74.6" fill="#ffaaaa"/>
<rect x="639.25" y="1150.7" width="34.05" height="74.6" fill="#ff7070"/>
<rect x="673.00" y="1150.7" width="11.55" height="74.6" fill="#ffaaaa"/>
<rect x="684.25" y="1150.7" width="169.05" height="74.6" fill="#ffe0e0"/>
<rect x="172.20" y="1224.7" width="107.35" height="37.6" fill="#ff0000"/>
<rect x="279.25" y="1224.7" width="112.80" height="37.6" fill="#000000"/>
<rect x="391.75" y="1224.7" width="45.30" height="37.6" fill="#ff3c3c"/>
<rect x="436.75" y="1224.7" width="34.05" height="37.6" fill="#ff0000"/>
<rect x="470.50" y="1224.7" width="45.30" height="37.6" fill="#ff3c3c"/>
<rect x="515.50" y="1224.7" width="11.55" height="37.6" fill="#ff7070"/>
<rect x="526.75" y="1224.7" width="34.05" height="37.6" fill="#ffe0e0"/>
<rect x="560.50" y="1224.7" width="45.30" height="37.6" fill="#e0e0ff"/>
<rect x="605.50" y="1224.7" width="11.55" height="37.6" fill="#ffe0e0"/>
<rect x="616.75" y="1224.7" width="11.55" height="37.6" fill="#ff7070"/>
<rect x="628.00" y="1224.7" width="11.55" height="37.6" fill="#ff3c3c"/>
<rect x="639.25" y="1224.7" width="22.80" height="37.6" fill="#ff0000"/>
<rect x="661.75" y="1224.7" width="11.55" height="37.6" fill="#ff3c3c"/>
<rect x="673.00" y="1224.7" width="11.55" height="37.6" fill="#ff7070"/>
<rect x="684.25" y="1224.7" width="22.80" height="37.6" fill="#ffaaaa"/>
<rect x="706.75" y="1224.7" width="146.55" height="37.6" fill="#ffe0e0"/>
</g>
<g clip-path="url(#clipC)">
<path d="M185.8 882.5 C185.8 902.1 185.6 955.4 186.0 1000.0 C186.4 1044.6 187.1 1106.0 188.0 1150.0 C188.9 1194.0 190.9 1245.0 191.5 1264.0" fill="none" stroke="#000" stroke-width="1.6"/>
<path d="M221.4 911.6 C221.5 926.3 221.3 960.3 222.0 1000.0 C222.7 1039.7 224.0 1106.0 225.5 1150.0 C227.0 1194.0 230.1 1245.0 231.0 1264.0" fill="none" stroke="#000" stroke-width="1.6"/>
<path d="M250.2 882.8 L250.2 1028 Q250.5 1040 254 1050 L263.5 1071 L264.4 1040 L264.4 893" fill="none" stroke="#000" stroke-width="1.6"/>
<line x1="289.2" y1="882.8" x2="289.2" y2="1186" stroke="#000" stroke-width="1.6"/>
<line x1="306" y1="882.8" x2="306" y2="1186" stroke="#000" stroke-width="1.6"/>
<path d="M790.0 1058.0 C787.5 1057.5 780.0 1057.8 775.0 1055.0 C770.0 1052.2 765.0 1043.8 760.0 1041.0 C755.0 1038.2 750.8 1038.7 745.0 1038.0 C739.2 1037.3 730.8 1038.5 725.0 1037.0 C719.2 1035.5 714.6 1031.4 710.0 1028.8 C705.4 1026.1 701.2 1023.1 697.5 1021.2 C693.8 1019.4 692.8 1018.3 688.0 1017.5 C683.2 1016.7 674.0 1016.0 668.8 1016.2 C663.5 1016.5 660.0 1019.0 656.2 1018.8 C652.5 1018.5 649.2 1014.3 646.2 1014.5 C643.3 1014.7 641.2 1016.6 638.8 1020.0 C636.2 1023.4 633.3 1028.3 631.2 1035.0 C629.2 1041.7 627.4 1051.2 626.2 1060.0 C625.1 1068.8 624.5 1079.2 624.5 1087.5 C624.5 1095.8 624.8 1104.1 626.2 1110.0 C627.7 1115.9 631.1 1122.6 633.0 1123.0 C634.9 1123.4 635.9 1118.0 637.5 1112.5 C639.1 1107.0 640.6 1096.0 642.5 1090.0 C644.4 1084.0 646.7 1080.2 648.8 1076.2 C650.8 1072.3 652.1 1067.3 655.0 1066.2 C657.9 1065.2 662.5 1066.7 666.2 1070.0 C670.0 1073.3 673.5 1081.9 677.5 1086.2 C681.5 1090.6 685.8 1091.5 690.0 1096.2 C694.2 1101.0 699.6 1107.7 702.5 1115.0 C705.4 1122.3 706.0 1133.1 707.5 1140.0 C709.0 1146.9 708.8 1154.8 711.2 1156.2 C713.8 1157.7 720.2 1152.3 722.5 1148.8 C724.8 1145.2 724.8 1140.2 725.0 1135.0 C725.2 1129.8 723.3 1123.8 723.8 1117.5 C724.2 1111.2 725.6 1103.8 727.5 1097.5 C729.4 1091.2 731.2 1085.0 735.0 1080.0 C738.8 1075.0 744.2 1070.8 750.0 1067.5 C755.8 1064.2 766.7 1061.2 770.0 1060.0 L790 1058" fill="none" stroke="#000" stroke-width="1.6" stroke-linejoin="miter"/>
<path d="M678.4 1263.0 C680.2 1260.7 686.1 1254.4 689.4 1249.2 C692.7 1244.0 695.5 1238.6 698.2 1231.6 C701.0 1224.6 703.3 1213.6 705.9 1207.4 C708.5 1201.2 710.7 1197.2 713.6 1194.6 C716.5 1192.0 720.9 1190.6 723.5 1192.0 C726.1 1193.4 727.8 1197.5 729.0 1203.0 C730.2 1208.5 730.6 1215.0 730.8 1225.0 C731.0 1235.0 730.2 1256.7 730.1 1263.0" fill="none" stroke="#000" stroke-width="1.6"/>
<line x1="428.9" y1="884" x2="428.9" y2="1262" stroke="#000" stroke-width="1.9" stroke-dasharray="7.5 4"/>
<path d="M505.8 914.0 C505.8 925.0 505.7 958.0 506.0 980.0 C506.3 1002.0 507.3 1031.6 507.6 1046.0 C507.9 1060.4 507.2 1059.5 508.0 1066.6 C508.8 1073.7 510.8 1081.3 512.4 1088.6 C514.0 1095.9 515.7 1104.7 517.9 1110.6 C520.1 1116.5 523.0 1120.9 525.6 1123.8 C528.2 1126.7 530.9 1129.3 533.3 1128.2 C535.7 1127.1 536.8 1123.1 539.9 1117.2 C543.0 1111.3 548.1 1100.3 552.0 1093.0 C555.9 1085.7 560.1 1081.0 563.0 1073.2 C565.9 1065.4 568.0 1061.5 569.2 1046.0 C570.4 1030.5 569.9 1007.0 570.0 980.0 C570.1 953.0 569.7 900.0 569.6 884.0" fill="none" stroke="#000" stroke-width="1.9" stroke-dasharray="7.5 4"/>
<path d="M611.0 883.2 C611.0 892.0 611.3 920.6 611.0 936.0 C610.7 951.4 610.2 963.1 609.2 975.6 C608.2 988.1 606.8 997.6 604.8 1010.8 C602.8 1024.0 600.0 1039.3 597.5 1055.0 C595.0 1070.7 592.1 1091.7 590.0 1105.0 C587.9 1118.3 586.2 1124.6 585.0 1135.0 C583.8 1145.4 583.4 1155.8 583.0 1167.5 C582.6 1179.2 582.4 1194.6 582.5 1205.0 C582.6 1215.4 582.9 1222.9 583.8 1230.0 C584.6 1237.1 585.6 1242.9 587.5 1247.5 C589.4 1252.1 592.5 1255.8 595.0 1257.5 C597.5 1259.2 600.8 1258.8 602.5 1257.5 C604.2 1256.2 604.2 1255.4 605.0 1250.0 C605.8 1244.6 606.2 1234.6 607.5 1225.0 C608.8 1215.4 610.8 1200.0 612.5 1192.5 C614.2 1185.0 615.8 1183.1 617.5 1180.0 C619.2 1176.9 619.6 1173.8 622.5 1173.8 C625.4 1173.8 631.0 1180.0 635.0 1180.0 C639.0 1180.0 643.3 1177.1 646.2 1173.8 C649.2 1170.4 650.8 1162.9 652.5 1160.0 C654.2 1157.1 654.8 1155.4 656.2 1156.2 C657.7 1157.1 659.9 1160.2 661.2 1165.0 C662.6 1169.8 664.7 1178.3 664.5 1185.0 C664.3 1191.7 661.8 1198.3 660.0 1205.0 C658.2 1211.7 655.5 1215.3 653.8 1225.0 C652.0 1234.7 650.2 1256.7 649.5 1263.0" fill="none" stroke="#000" stroke-width="1.9" stroke-dasharray="7.5 4"/>
<path d="M467.3 1263.0 C467.4 1254.8 467.8 1229.5 468.0 1214.0 C468.2 1198.5 468.2 1181.7 468.8 1170.0 C469.4 1158.3 470.3 1150.0 471.7 1143.6 C473.1 1137.2 474.8 1133.2 477.2 1131.5 C479.6 1129.8 483.4 1131.0 486.0 1133.7 C488.6 1136.5 491.0 1142.0 492.6 1148.0 C494.2 1154.0 494.6 1160.8 495.9 1170.0 C497.2 1179.2 499.1 1192.0 500.3 1203.0 C501.5 1214.0 502.6 1226.0 503.2 1236.0 C503.8 1246.0 503.5 1258.5 503.6 1263.0" fill="none" stroke="#000" stroke-width="1.9" stroke-dasharray="7.5 4"/>
</g>
<rect x="668.5" y="999" width="20" height="32.5" fill="#fff"/>
<text x="678.3" y="1027.5" font-size="37" text-anchor="middle" textLength="16" lengthAdjust="spacingAndGlyphs" font-family="Liberation Serif, serif">0</text>
<rect x="173.2" y="874.8" width="672.9000000000001" height="387.20000000000005" fill="none" stroke="#000" stroke-width="2.1"/>
<line x1="172.2" y1="874.8" x2="847.1" y2="874.8" stroke="#000" stroke-width="2.2"/>
<g clip-path="url(#clipC2)">
<path d="M213.3 883.6L229.0 883.6M211.9 893.1L229.0 883.6L211.9 874.1M257.7 883.6L284.8 883.6M267.7 893.1L284.8 883.6L267.7 874.1M346.0 883.6L364.5 883.6M347.4 893.1L364.5 883.6L347.4 874.1M302.1 883.6L359.5 883.6M342.4 893.1L359.5 883.6L342.4 874.1M391.7 883.6L424.5 883.6M407.4 893.1L424.5 883.6L407.4 874.1M436.9 883.6L464.2 883.6M447.1 893.1L464.2 883.6L447.1 874.1M480.9 883.6L517.0 883.6M499.9 893.1L517.0 883.6L499.9 874.1M572.2 883.6L598.4 883.6M581.3 893.1L598.4 883.6L581.3 874.1M213.3 902.6L227.2 902.6M210.1 912.1L227.2 902.6L210.1 893.1M257.7 902.6L281.8 902.6M264.7 912.1L281.8 902.6L264.7 893.1M346.0 902.6L364.0 902.6M346.9 912.1L364.0 902.6L346.9 893.1M302.1 902.6L358.5 902.6M341.4 912.1L358.5 902.6L341.4 893.1M391.7 902.6L423.4 902.6M406.3 912.1L423.4 902.6L406.3 893.1M436.9 902.6L464.2 902.6M447.1 912.1L464.2 902.6L447.1 893.1M480.9 902.6L517.0 902.6M499.9 912.1L517.0 902.6L499.9 893.1M572.2 902.6L598.4 902.6M581.3 912.1L598.4 902.6L581.3 893.1M257.7 929.8L278.8 929.8M261.7 939.3L278.8 929.8L261.7 920.3M346.0 929.8L363.5 929.8M346.4 939.3L363.5 929.8L346.4 920.3M302.1 929.8L353.4 929.8M336.3 939.3L353.4 929.8L336.3 920.3M391.7 929.8L422.3 929.8M405.2 939.3L422.3 929.8L405.2 920.3M436.9 929.8L464.2 929.8M447.1 939.3L464.2 929.8L447.1 920.3M480.9 929.8L517.0 929.8M499.9 939.3L517.0 929.8L499.9 920.3M572.2 929.8L599.5 929.8M582.4 939.3L599.5 929.8L582.4 920.3M257.7 965.0L275.8 965.0M258.7 974.5L275.8 965.0L258.7 955.5M302.1 965.0L350.8 965.0M333.7 974.5L350.8 965.0L333.7 955.5M391.7 965.0L421.2 965.0M404.1 974.5L421.2 965.0L404.1 955.5M436.9 965.0L464.2 965.0M447.1 974.5L464.2 965.0L447.1 955.5M480.9 965.0L517.0 965.0M499.9 974.5L517.0 965.0L499.9 955.5M572.2 965.0L600.6 965.0M583.5 974.5L600.6 965.0L583.5 955.5M257.7 1007.7L273.4 1007.7M256.3 1017.2L273.4 1007.7L256.3 998.2M302.1 1007.7L348.0 1007.7M330.9 1017.2L348.0 1007.7L330.9 998.2M391.7 1007.7L418.6 1007.7M401.5 1017.2L418.6 1007.7L401.5 998.2M436.9 1007.7L463.0 1007.7M445.9 1017.2L463.0 1007.7L445.9 998.2M480.9 1007.7L516.0 1007.7M498.9 1017.2L516.0 1007.7L498.9 998.2M572.2 1007.7L601.7 1007.7M584.6 1017.2L601.7 1007.7L584.6 998.2M302.1 1058.8L345.3 1058.8M328.2 1068.2L345.3 1058.8L328.2 1049.3M391.7 1058.8L416.8 1058.8M399.7 1068.2L416.8 1058.8L399.7 1049.3M436.9 1058.8L461.0 1058.8M443.9 1068.2L461.0 1058.8L443.9 1049.3M480.9 1058.8L513.7 1058.8M496.6 1068.2L513.7 1058.8L496.6 1049.3M572.2 1058.8L599.5 1058.8M582.4 1068.2L599.5 1058.8L582.4 1049.3M302.1 1116.0L343.0 1116.0M325.9 1125.5L343.0 1116.0L325.9 1106.5M391.7 1116.0L413.0 1116.0M395.9 1125.5L413.0 1116.0L395.9 1106.5M436.9 1116.0L459.8 1116.0M442.7 1125.5L459.8 1116.0L442.7 1106.5M480.9 1116.0L512.6 1116.0M495.5 1125.5L512.6 1116.0L495.5 1106.5M572.2 1116.0L598.4 1116.0M581.3 1125.5L598.4 1116.0L581.3 1106.5M391.7 1185.0L409.5 1185.0M392.4 1194.5L409.5 1185.0L392.4 1175.5M436.9 1185.0L464.2 1185.0M447.1 1194.5L464.2 1185.0L447.1 1175.5M480.9 1185.0L511.5 1185.0M494.4 1194.5L511.5 1185.0L494.4 1175.5M572.2 1185.0L599.5 1185.0M582.4 1194.5L599.5 1185.0L582.4 1175.5M436.9 1262.3L466.0 1262.3M448.9 1271.8L466.0 1262.3L448.9 1252.8M480.9 1262.3L501.6 1262.3M484.5 1271.8L501.6 1262.3L484.5 1252.8M572.2 1262.3L600.0 1262.3M582.9 1271.8L600.0 1262.3L582.9 1252.8" fill="none" stroke="#fff" stroke-width="7.8" stroke-linecap="round" stroke-linejoin="round"/>
<path d="M213.3 883.6L229.0 883.6M211.9 893.1L229.0 883.6L211.9 874.1M257.7 883.6L284.8 883.6M267.7 893.1L284.8 883.6L267.7 874.1M346.0 883.6L364.5 883.6M347.4 893.1L364.5 883.6L347.4 874.1M302.1 883.6L359.5 883.6M342.4 893.1L359.5 883.6L342.4 874.1M391.7 883.6L424.5 883.6M407.4 893.1L424.5 883.6L407.4 874.1M436.9 883.6L464.2 883.6M447.1 893.1L464.2 883.6L447.1 874.1M480.9 883.6L517.0 883.6M499.9 893.1L517.0 883.6L499.9 874.1M572.2 883.6L598.4 883.6M581.3 893.1L598.4 883.6L581.3 874.1M213.3 902.6L227.2 902.6M210.1 912.1L227.2 902.6L210.1 893.1M257.7 902.6L281.8 902.6M264.7 912.1L281.8 902.6L264.7 893.1M346.0 902.6L364.0 902.6M346.9 912.1L364.0 902.6L346.9 893.1M302.1 902.6L358.5 902.6M341.4 912.1L358.5 902.6L341.4 893.1M391.7 902.6L423.4 902.6M406.3 912.1L423.4 902.6L406.3 893.1M436.9 902.6L464.2 902.6M447.1 912.1L464.2 902.6L447.1 893.1M480.9 902.6L517.0 902.6M499.9 912.1L517.0 902.6L499.9 893.1M572.2 902.6L598.4 902.6M581.3 912.1L598.4 902.6L581.3 893.1M257.7 929.8L278.8 929.8M261.7 939.3L278.8 929.8L261.7 920.3M346.0 929.8L363.5 929.8M346.4 939.3L363.5 929.8L346.4 920.3M302.1 929.8L353.4 929.8M336.3 939.3L353.4 929.8L336.3 920.3M391.7 929.8L422.3 929.8M405.2 939.3L422.3 929.8L405.2 920.3M436.9 929.8L464.2 929.8M447.1 939.3L464.2 929.8L447.1 920.3M480.9 929.8L517.0 929.8M499.9 939.3L517.0 929.8L499.9 920.3M572.2 929.8L599.5 929.8M582.4 939.3L599.5 929.8L582.4 920.3M257.7 965.0L275.8 965.0M258.7 974.5L275.8 965.0L258.7 955.5M302.1 965.0L350.8 965.0M333.7 974.5L350.8 965.0L333.7 955.5M391.7 965.0L421.2 965.0M404.1 974.5L421.2 965.0L404.1 955.5M436.9 965.0L464.2 965.0M447.1 974.5L464.2 965.0L447.1 955.5M480.9 965.0L517.0 965.0M499.9 974.5L517.0 965.0L499.9 955.5M572.2 965.0L600.6 965.0M583.5 974.5L600.6 965.0L583.5 955.5M257.7 1007.7L273.4 1007.7M256.3 1017.2L273.4 1007.7L256.3 998.2M302.1 1007.7L348.0 1007.7M330.9 1017.2L348.0 1007.7L330.9 998.2M391.7 1007.7L418.6 1007.7M401.5 1017.2L418.6 1007.7L401.5 998.2M436.9 1007.7L463.0 1007.7M445.9 1017.2L463.0 1007.7L445.9 998.2M480.9 1007.7L516.0 1007.7M498.9 1017.2L516.0 1007.7L498.9 998.2M572.2 1007.7L601.7 1007.7M584.6 1017.2L601.7 1007.7L584.6 998.2M302.1 1058.8L345.3 1058.8M328.2 1068.2L345.3 1058.8L328.2 1049.3M391.7 1058.8L416.8 1058.8M399.7 1068.2L416.8 1058.8L399.7 1049.3M436.9 1058.8L461.0 1058.8M443.9 1068.2L461.0 1058.8L443.9 1049.3M480.9 1058.8L513.7 1058.8M496.6 1068.2L513.7 1058.8L496.6 1049.3M572.2 1058.8L599.5 1058.8M582.4 1068.2L599.5 1058.8L582.4 1049.3M302.1 1116.0L343.0 1116.0M325.9 1125.5L343.0 1116.0L325.9 1106.5M391.7 1116.0L413.0 1116.0M395.9 1125.5L413.0 1116.0L395.9 1106.5M436.9 1116.0L459.8 1116.0M442.7 1125.5L459.8 1116.0L442.7 1106.5M480.9 1116.0L512.6 1116.0M495.5 1125.5L512.6 1116.0L495.5 1106.5M572.2 1116.0L598.4 1116.0M581.3 1125.5L598.4 1116.0L581.3 1106.5M391.7 1185.0L409.5 1185.0M392.4 1194.5L409.5 1185.0L392.4 1175.5M436.9 1185.0L464.2 1185.0M447.1 1194.5L464.2 1185.0L447.1 1175.5M480.9 1185.0L511.5 1185.0M494.4 1194.5L511.5 1185.0L494.4 1175.5M572.2 1185.0L599.5 1185.0M582.4 1194.5L599.5 1185.0L582.4 1175.5M436.9 1262.3L466.0 1262.3M448.9 1271.8L466.0 1262.3L448.9 1252.8M480.9 1262.3L501.6 1262.3M484.5 1271.8L501.6 1262.3L484.5 1252.8M572.2 1262.3L600.0 1262.3M582.9 1271.8L600.0 1262.3L582.9 1252.8" fill="none" stroke="#000" stroke-width="3.7" stroke-linecap="round" stroke-linejoin="round"/>
</g>
<rect x="760.5" y="886" width="77" height="68" fill="#fff" stroke="#000" stroke-width="2.4"/>
<line x1="161" y1="78.0" x2="173.2" y2="78.0" stroke="#000" stroke-width="2"/>
<text x="149" y="93.0" font-size="44.5" text-anchor="end" textLength="66.9" lengthAdjust="spacingAndGlyphs" font-family="Liberation Serif, serif" >200</text>
<line x1="161" y1="228.6" x2="173.2" y2="228.6" stroke="#000" stroke-width="2"/>
<text x="149" y="243.7" font-size="44.5" text-anchor="end" textLength="66.9" lengthAdjust="spacingAndGlyphs" font-family="Liberation Serif, serif" >400</text>
<line x1="161" y1="379.2" x2="173.2" y2="379.2" stroke="#000" stroke-width="2"/>
<text x="149" y="394.3" font-size="44.5" text-anchor="end" textLength="66.9" lengthAdjust="spacingAndGlyphs" font-family="Liberation Serif, serif" >600</text>
<line x1="161" y1="529.9" x2="173.2" y2="529.9" stroke="#000" stroke-width="2"/>
<text x="149" y="544.9" font-size="44.5" text-anchor="end" textLength="66.9" lengthAdjust="spacingAndGlyphs" font-family="Liberation Serif, serif" >800</text>
<line x1="161" y1="680.5" x2="173.2" y2="680.5" stroke="#000" stroke-width="2"/>
<text x="149" y="695.5" font-size="44.5" text-anchor="end" textLength="89.2" lengthAdjust="spacingAndGlyphs" font-family="Liberation Serif, serif" >1000</text>
<line x1="161" y1="874.5" x2="173.2" y2="874.5" stroke="#000" stroke-width="2"/>
<text x="149" y="889.5" font-size="44.5" text-anchor="end" font-family="Liberation Serif, serif" >0</text>
<line x1="161" y1="952.2" x2="173.2" y2="952.2" stroke="#000" stroke-width="2"/>
<text x="149" y="967.3" font-size="44.5" text-anchor="end" textLength="44" lengthAdjust="spacingAndGlyphs" font-family="Liberation Serif, serif" >10</text>
<line x1="161" y1="1029.7" x2="173.2" y2="1029.7" stroke="#000" stroke-width="2"/>
<text x="149" y="1044.7" font-size="44.5" text-anchor="end" textLength="44" lengthAdjust="spacingAndGlyphs" font-family="Liberation Serif, serif" >20</text>
<line x1="161" y1="1107.1" x2="173.2" y2="1107.1" stroke="#000" stroke-width="2"/>
<text x="149" y="1122.2" font-size="44.5" text-anchor="end" textLength="44" lengthAdjust="spacingAndGlyphs" font-family="Liberation Serif, serif" >30</text>
<line x1="161" y1="1184.6" x2="173.2" y2="1184.6" stroke="#000" stroke-width="2"/>
<text x="149" y="1199.6" font-size="44.5" text-anchor="end" textLength="44" lengthAdjust="spacingAndGlyphs" font-family="Liberation Serif, serif" >40</text>
<line x1="161" y1="1262.0" x2="173.2" y2="1262.0" stroke="#000" stroke-width="2"/>
<text x="149" y="1277.0" font-size="44.5" text-anchor="end" textLength="44" lengthAdjust="spacingAndGlyphs" font-family="Liberation Serif, serif" >50</text>
<text x="871.5" y="694.4" font-size="41" text-anchor="start" textLength="41.5" lengthAdjust="spacingAndGlyphs" font-family="Liberation Serif, serif" >40</text>
<text x="871.5" y="791.4" font-size="41" text-anchor="start" font-family="Liberation Serif, serif" >0</text>
<text x="871.5" y="888.4" font-size="41" text-anchor="start" textLength="70" lengthAdjust="spacingAndGlyphs" font-family="Liberation Serif, serif" >−40</text>
<line x1="173.2" y1="1262.0" x2="173.2" y2="1275.0" stroke="#000" stroke-width="2"/>
<text x="172.4" y="1312.6" font-size="45" text-anchor="middle" textLength="71" lengthAdjust="spacingAndGlyphs" font-family="Liberation Serif, serif" >55N</text>
<line x1="285.4" y1="1262.0" x2="285.4" y2="1275.0" stroke="#000" stroke-width="2"/>
<text x="284.6" y="1312.6" font-size="45" text-anchor="middle" textLength="71" lengthAdjust="spacingAndGlyphs" font-family="Liberation Serif, serif" >60N</text>
<line x1="397.5" y1="1262.0" x2="397.5" y2="1275.0" stroke="#000" stroke-width="2"/>
<text x="396.7" y="1312.6" font-size="45" text-anchor="middle" textLength="71" lengthAdjust="spacingAndGlyphs" font-family="Liberation Serif, serif" >65N</text>
<line x1="509.7" y1="1262.0" x2="509.7" y2="1275.0" stroke="#000" stroke-width="2"/>
<text x="508.9" y="1312.6" font-size="45" text-anchor="middle" textLength="71" lengthAdjust="spacingAndGlyphs" font-family="Liberation Serif, serif" >70N</text>
<line x1="621.8" y1="1262.0" x2="621.8" y2="1275.0" stroke="#000" stroke-width="2"/>
<text x="621.0" y="1312.6" font-size="45" text-anchor="middle" textLength="71" lengthAdjust="spacingAndGlyphs" font-family="Liberation Serif, serif" >75N</text>
<line x1="734.0" y1="1262.0" x2="734.0" y2="1275.0" stroke="#000" stroke-width="2"/>
<text x="733.2" y="1312.6" font-size="45" text-anchor="middle" textLength="71" lengthAdjust="spacingAndGlyphs" font-family="Liberation Serif, serif" >80N</text>
<line x1="846.1" y1="1262.0" x2="846.1" y2="1275.0" stroke="#000" stroke-width="2"/>
<text x="845.3" y="1312.6" font-size="45" text-anchor="middle" textLength="71" lengthAdjust="spacingAndGlyphs" font-family="Liberation Serif, serif" >85N</text>
<text transform="translate(34.7,353) rotate(-90)" font-size="45" text-anchor="middle" textLength="321" lengthAdjust="spacing" font-family="Liberation Serif, serif">Pressure (hPa)</text>
<text transform="translate(34.7,1068) rotate(-90)" font-size="45" text-anchor="middle" textLength="221" lengthAdjust="spacing" font-family="Liberation Serif, serif">Depth (m)</text>
<text transform="translate(966,779) rotate(90)" font-size="40" text-anchor="middle" textLength="148" lengthAdjust="spacing" font-family="Liberation Serif, serif">(W m<tspan font-size="22" dy="-14">−2</tspan><tspan dy="14">)</tspan></text>
<text x="768.1" y="62.2" font-size="56" textLength="13" lengthAdjust="spacingAndGlyphs" stroke="#000" stroke-width="0.9" font-family="Liberation Serif, serif">(</text>
<text x="786.8" y="64" font-size="52" textLength="25" lengthAdjust="spacingAndGlyphs" stroke="#000" stroke-width="0.5" font-family="Liberation Serif, serif">a</text>
<text x="814.9" y="62.2" font-size="56" textLength="13" lengthAdjust="spacingAndGlyphs" stroke="#000" stroke-width="0.9" font-family="Liberation Serif, serif">)</text>
<text x="768.1" y="741.8000000000001" font-size="56" textLength="13" lengthAdjust="spacingAndGlyphs" stroke="#000" stroke-width="0.9" font-family="Liberation Serif, serif">(</text>
<text x="786.8" y="743.6" font-size="52" textLength="25" lengthAdjust="spacingAndGlyphs" stroke="#000" stroke-width="0.5" font-family="Liberation Serif, serif">b</text>
<text x="814.9" y="741.8000000000001" font-size="56" textLength="13" lengthAdjust="spacingAndGlyphs" stroke="#000" stroke-width="0.9" font-family="Liberation Serif, serif">)</text>
<text x="768.1" y="934.8000000000001" font-size="56" textLength="13" lengthAdjust="spacingAndGlyphs" stroke="#000" stroke-width="0.9" font-family="Liberation Serif, serif">(</text>
<text x="786.8" y="936.6" font-size="52" textLength="25" lengthAdjust="spacingAndGlyphs" stroke="#000" stroke-width="0.5" font-family="Liberation Serif, serif">c</text>
<text x="814.9" y="934.8000000000001" font-size="56" textLength="13" lengthAdjust="spacingAndGlyphs" stroke="#000" stroke-width="0.9" font-family="Liberation Serif, serif">)</text>
<rect x="76.5" y="1359" width="58.0" height="39.5" fill="#ffffff" stroke="#000" stroke-width="2.4"/>
<rect x="134.5" y="1359" width="57.69999999999999" height="39.5" fill="#ffe878" stroke="#000" stroke-width="2.4"/>
<rect x="192.2" y="1359" width="57.900000000000006" height="39.5" fill="#ffc805" stroke="#000" stroke-width="2.4"/>
<rect x="250.1" y="1359" width="57.900000000000006" height="39.5" fill="#ff9300" stroke="#000" stroke-width="2.4"/>
<rect x="308" y="1359" width="58" height="39.5" fill="#ff3a02" stroke="#000" stroke-width="2.4"/>
<text x="134.5" y="1437.5" font-size="38.5" text-anchor="middle" font-family="Liberation Serif, serif" >1</text>
<text x="192.2" y="1437.5" font-size="38.5" text-anchor="middle" font-family="Liberation Serif, serif" >2</text>
<text x="250.1" y="1437.5" font-size="38.5" text-anchor="middle" font-family="Liberation Serif, serif" >3</text>
<text x="308" y="1437.5" font-size="38.5" text-anchor="middle" font-family="Liberation Serif, serif" >4</text>
<text x="221.2" y="1491" font-size="42" text-anchor="middle" textLength="65" lengthAdjust="spacingAndGlyphs" font-family="Liberation Serif, serif" >(°C)</text>
<rect x="442.0" y="1359" width="53.88" height="39.5" fill="#0000ff" stroke="#000" stroke-width="2.4"/>
<rect x="495.9" y="1359" width="53.88" height="39.5" fill="#3c3cff" stroke="#000" stroke-width="2.4"/>
<rect x="549.8" y="1359" width="53.88" height="39.5" fill="#7070ff" stroke="#000" stroke-width="2.4"/>
<rect x="603.6" y="1359" width="53.88" height="39.5" fill="#aaaaff" stroke="#000" stroke-width="2.4"/>
<rect x="657.5" y="1359" width="53.88" height="39.5" fill="#e0e0ff" stroke="#000" stroke-width="2.4"/>
<rect x="711.4" y="1359" width="53.88" height="39.5" fill="#ffe0e0" stroke="#000" stroke-width="2.4"/>
<rect x="765.3" y="1359" width="53.88" height="39.5" fill="#ffaaaa" stroke="#000" stroke-width="2.4"/>
<rect x="819.2" y="1359" width="53.88" height="39.5" fill="#ff7070" stroke="#000" stroke-width="2.4"/>
<rect x="873.0" y="1359" width="53.88" height="39.5" fill="#ff3c3c" stroke="#000" stroke-width="2.4"/>
<rect x="926.9" y="1359" width="53.88" height="39.5" fill="#ff0000" stroke="#000" stroke-width="2.4"/>
<text x="496.2" y="1437.5" font-size="38.5" text-anchor="middle" textLength="47.5" lengthAdjust="spacingAndGlyphs" font-family="Liberation Serif, serif" >−8</text>
<text x="550.1" y="1437.5" font-size="38.5" text-anchor="middle" textLength="47.5" lengthAdjust="spacingAndGlyphs" font-family="Liberation Serif, serif" >−6</text>
<text x="603.9" y="1437.5" font-size="38.5" text-anchor="middle" textLength="47.5" lengthAdjust="spacingAndGlyphs" font-family="Liberation Serif, serif" >−4</text>
<text x="657.8" y="1437.5" font-size="38.5" text-anchor="middle" textLength="47.5" lengthAdjust="spacingAndGlyphs" font-family="Liberation Serif, serif" >−2</text>
<text x="711.4" y="1437.5" font-size="38.5" text-anchor="middle" font-family="Liberation Serif, serif" >0</text>
<text x="765.3" y="1437.5" font-size="38.5" text-anchor="middle" font-family="Liberation Serif, serif" >2</text>
<text x="819.2" y="1437.5" font-size="38.5" text-anchor="middle" font-family="Liberation Serif, serif" >4</text>
<text x="873.0" y="1437.5" font-size="38.5" text-anchor="middle" font-family="Liberation Serif, serif" >6</text>
<text x="926.9" y="1437.5" font-size="38.5" text-anchor="middle" font-family="Liberation Serif, serif" >8</text>
<text x="712.5" y="1490.5" font-size="42" text-anchor="middle" textLength="165" lengthAdjust="spacing" font-family="Liberation Serif, serif">(10<tspan font-size="22" dy="-16">−1</tspan><tspan dy="16"> °C)</tspan></text>
</svg>
</body></html>
